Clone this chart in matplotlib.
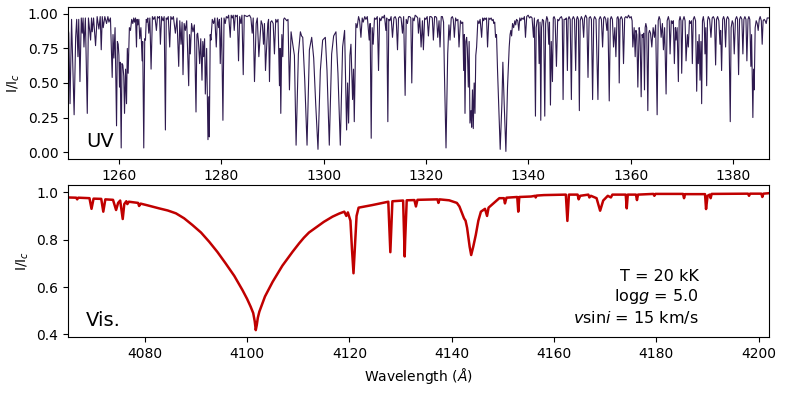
import numpy as np
import matplotlib
matplotlib.use('Agg')
import matplotlib.pyplot as plt

# UV spectrum, points as (wavelength [A], I/Ic)
uv_points = [
    (1250.0, 0.90), (1250.15, 0.86), (1250.4, 0.35), (1250.7, 0.96), (1251.2, 0.27), (1251.5, 0.83),
    (1251.7, 0.96), (1251.95, 0.69), (1252.1, 0.96), (1252.34, 0.51), (1252.6, 0.97), (1252.79, 0.86),
    (1252.95, 0.97), (1253.12, 0.76), (1253.4, 0.97), (1253.77, 0.28), (1254.0, 0.97), (1254.42, 0.81),
    (1254.6, 0.97), (1254.74, 0.87), (1255.0, 0.97), (1255.39, 0.77), (1255.7, 0.98), (1256.04, 0.89),
    (1256.3, 0.98), (1256.5, 0.74), (1256.7, 0.98), (1256.89, 0.90), (1257.2, 0.98), (1257.54, 0.93),
    (1257.8, 0.98), (1258.0, 0.94), (1258.3, 0.97), (1258.64, 0.54), (1258.8, 0.85), (1258.97, 0.68),
    (1259.2, 0.90), (1259.49, 0.19), (1259.65, 0.80), (1259.81, 0.78), (1259.95, 0.70), (1260.07, 0.47),
    (1260.2, 0.65), (1260.4, 0.03), (1260.55, 0.64), (1260.72, 0.63), (1260.9, 0.55), (1261.05, 0.28),
    (1261.25, 0.60), (1261.44, 0.35), (1261.6, 0.75), (1261.76, 0.57), (1262.0, 0.90), (1262.22, 0.88),
    (1262.45, 0.96), (1262.67, 0.93), (1262.85, 0.97), (1263.0, 0.94), (1263.2, 0.97), (1263.39, 0.76),
    (1263.5, 0.96), (1263.65, 0.92), (1263.85, 0.96), (1264.03, 0.82), (1264.25, 0.90), (1264.49, 0.66),
    (1264.6, 0.80), (1264.81, 0.03), (1265.0, 0.82), (1265.14, 0.81), (1265.3, 0.96), (1265.46, 0.94),
    (1265.6, 0.97), (1265.79, 0.86), (1266.0, 0.97), (1266.24, 0.60), (1266.5, 0.98), (1266.76, 0.96),
    (1267.0, 0.98), (1267.28, 0.88), (1267.5, 0.98), (1267.74, 0.97), (1267.9, 0.98), (1268.06, 0.78),
    (1268.3, 0.98), (1268.58, 0.95), (1268.8, 0.98), (1269.04, 0.16), (1269.2, 0.97), (1269.36, 0.96),
    (1269.6, 0.98), (1269.88, 0.76), (1270.1, 0.98), (1270.34, 0.96), (1270.6, 0.98), (1270.99, 0.86),
    (1271.3, 0.97), (1271.64, 0.62), (1271.85, 0.95), (1272.09, 0.78), (1272.3, 0.94), (1272.48, 0.56),
    (1272.7, 0.93), (1272.94, 0.88), (1273.2, 0.95), (1273.59, 0.48), (1273.75, 0.85), (1273.91, 0.71),
    (1274.15, 0.93), (1274.43, 0.87), (1274.7, 0.92), (1275.02, 0.29), (1275.2, 0.85), (1275.34, 0.86),
    (1275.5, 0.80), (1275.73, 0.64), (1275.95, 0.82), (1276.19, 0.52), (1276.35, 0.80), (1276.51, 0.69),
    (1276.7, 0.82), (1276.84, 0.42), (1277.1, 0.75), (1277.36, 0.09), (1277.5, 0.40), (1277.62, 0.11),
    (1277.8, 0.85), (1277.94, 0.81), (1278.2, 0.96), (1278.46, 0.93), (1278.7, 0.97), (1278.98, 0.76),
    (1279.2, 0.97), (1279.44, 0.90), (1279.6, 0.96), (1279.76, 0.64), (1280.0, 0.97), (1280.28, 0.23),
    (1280.5, 0.97), (1280.73, 0.93), (1280.95, 0.98), (1281.19, 0.97), (1281.4, 0.99), (1281.71, 0.83),
    (1281.9, 0.99), (1282.1, 0.97), (1282.3, 0.99), (1282.49, 0.88), (1282.7, 0.99), (1282.88, 0.98),
    (1283.1, 0.99), (1283.33, 0.66), (1283.55, 0.98), (1283.79, 0.93), (1284.0, 0.99), (1284.25, 0.56),
    (1284.45, 0.99),
    (1285.0, 0.98), (1285.48, 0.99), (1285.75, 0.97), (1286.0, 0.86), (1286.2, 0.97), (1286.45, 0.51),
    (1286.78, 0.93), (1287.0, 0.97), (1287.3, 0.69), (1287.75, 0.95), (1288.0, 0.92), (1288.21, 0.78),
    (1288.4, 0.93), (1288.6, 0.59), (1289.05, 0.93), (1289.2, 0.96), (1289.38, 0.51), (1289.6, 0.94),
    (1289.83, 0.95), (1290.1, 0.93), (1290.35, 0.71), (1290.6, 0.96), (1290.81, 0.94), (1291.05, 0.96),
    (1291.33, 0.48), (1291.45, 0.75), (1291.59, 0.28), (1291.8, 0.85), (1291.98, 0.69), (1292.15, 0.96),
    (1292.3, 0.97), (1292.55, 0.96), (1292.76, 0.95), (1293.0, 0.96), (1293.28, 0.45), (1293.6, 0.87),
    (1293.93, 0.78), (1294.25, 0.70), (1294.58, 0.05), (1295.03, 0.71), (1295.42, 0.87), (1295.65, 0.84),
    (1295.88, 0.83), (1296.27, 0.52), (1296.72, 0.05), (1297.18, 0.74), (1297.63, 0.83), (1298.02, 0.68),
    (1298.41, 0.35), (1298.86, 0.02), (1299.32, 0.59), (1299.77, 0.81), (1300.29, 0.83), (1300.62, 0.59),
    (1301.07, 0.05), (1301.53, 0.71), (1301.92, 0.84), (1302.37, 0.87), (1302.76, 0.57), (1303.22, 0.05),
    (1303.67, 0.76), (1304.06, 0.88), (1304.45, 0.16), (1304.65, 0.50), (1304.84, 0.21), (1305.1, 0.70),
    (1305.3, 0.78), (1305.62, 0.38), (1305.8, 0.60), (1305.95, 0.22), (1306.27, 0.93), (1306.5, 0.90),
    (1306.79, 0.98), (1307.0, 0.95), (1307.25, 0.83), (1307.5, 0.97), (1307.7, 0.94), (1308.0, 0.98),
    (1308.22, 0.96), (1308.5, 0.98), (1308.87, 0.81), (1309.05, 0.93), (1309.26, 0.10), (1309.45, 0.90),
    (1309.65, 0.78), (1309.9, 0.97), (1310.17, 0.96), (1310.45, 0.98), (1310.69, 0.59), (1310.9, 0.97),
    (1311.15, 0.95), (1311.4, 0.98), (1311.6, 0.97), (1311.85, 0.99), (1312.12, 0.88), (1312.3, 0.97),
    (1312.51, 0.22), (1312.7, 0.96), (1312.9, 0.95), (1313.15, 0.98), (1313.42, 0.83), (1313.7, 0.97),
    (1313.94, 0.98), (1314.15, 0.96), (1314.4, 0.74), (1314.6, 0.97), (1314.85, 0.98), (1315.1, 0.97),
    (1315.37, 0.86), (1315.6, 0.98), (1315.89, 0.41), (1316.1, 0.96), (1316.34, 0.93), (1316.55, 0.98),
    (1316.8, 0.98), (1317.0, 0.97), (1317.19, 0.50), (1317.4, 0.97), (1317.64, 0.95), (1317.85, 0.99),
    (1318.16, 0.98), (1318.35, 0.97), (1318.49, 0.86), (1318.75, 0.97),
    (1319.01, 0.76), (1319.27, 0.95), (1319.46, 0.74), (1319.7, 0.97), (1319.92, 0.96), (1320.2, 0.98),
    (1320.44, 0.84), (1320.7, 0.98), (1320.96, 0.98), (1321.2, 0.97), (1321.41, 0.81), (1321.65, 0.98),
    (1321.87, 0.98), (1322.05, 0.97), (1322.26, 0.83), (1322.52, 0.95), (1322.71, 0.76), (1322.95, 0.98),
    (1323.17, 0.98), (1323.4, 0.94), (1323.56, 0.59), (1323.88, 0.03), (1324.21, 0.71), (1324.45, 0.92),
    (1324.66, 0.81), (1324.9, 0.97), (1325.12, 0.98), (1325.3, 0.96), (1325.51, 0.83), (1325.75, 0.97),
    (1325.96, 0.95), (1326.2, 0.96), (1326.42, 0.76), (1326.7, 0.95), (1326.94, 0.93), (1327.15, 0.94),
    (1327.33, 0.59), (1327.45, 0.85), (1327.59, 0.28), (1327.75, 0.80), (1327.91, 0.83), (1328.05, 0.75),
    (1328.24, 0.47), (1328.4, 0.80), (1328.56, 0.21), (1328.76, 0.30), (1328.89, 0.18), (1329.05, 0.45),
    (1329.21, 0.17), (1329.38, 0.50), (1329.54, 0.28), (1329.7, 0.70), (1329.86, 0.76), (1330.1, 0.95),
    (1330.32, 0.93), (1330.55, 0.96), (1330.84, 0.83), (1331.05, 0.97), (1331.23, 0.95), (1331.45, 0.97),
    (1331.62, 0.96), (1331.8, 0.97), (1332.0, 0.76), (1332.25, 0.97), (1332.46, 0.96), (1332.7, 0.97),
    (1332.91, 0.95), (1333.1, 0.96), (1333.24, 0.93), (1333.4, 0.94), (1333.56, 0.83), (1333.75, 0.85),
    (1333.95, 0.59), (1334.21, 0.30), (1334.47, 0.02), (1334.8, 0.35), (1334.99, 0.65), (1335.25, 0.35),
    (1335.58, 0.005), (1335.9, 0.47), (1336.23, 0.76), (1336.4, 0.85), (1336.55, 0.88), (1336.7, 0.84),
    (1336.88, 0.93), (1337.1, 0.90), (1337.33, 0.95), (1337.5, 0.92), (1337.66, 0.96), (1337.9, 0.95),
    (1338.11, 0.88), (1338.3, 0.97), (1338.5, 0.95), (1338.7, 0.97), (1338.96, 0.96), (1339.2, 0.98),
    (1339.41, 0.83), (1339.65, 0.98), (1339.93, 0.99), (1340.2, 0.97), (1340.45, 0.98), (1340.7, 0.97),
    (1340.97, 0.83), (1341.15, 0.97), (1341.36, 0.26), (1341.5, 0.90), (1341.69, 0.95), (1341.9, 0.96),
    (1342.08, 0.64), (1342.25, 0.94), (1342.4, 0.23), (1342.55, 0.90), (1342.73, 0.96), (1342.95, 0.95),
    (1343.18, 0.26), (1343.35, 0.93), (1343.57, 0.98), (1343.75, 0.96), (1343.96, 0.78), (1344.1, 0.94),
    (1344.29, 0.34), (1344.45, 0.80), (1344.68, 0.51), (1344.85, 0.97), (1345.0, 0.98), (1345.2, 0.96),
    (1345.46, 0.62), (1345.7, 0.96), (1345.91, 0.95), (1346.15, 0.97), (1346.43, 0.98), (1346.6, 0.96),
    (1346.76, 0.38), (1346.95, 0.96), (1347.21, 0.96), (1347.4, 0.97), (1347.6, 0.59), (1347.75, 0.96),
    (1347.92, 0.98), (1348.15, 0.96), (1348.38, 0.38), (1348.55, 0.96), (1348.77, 0.98), (1349.0, 0.96),
    (1349.22, 0.59), (1349.4, 0.96), (1349.55, 0.98), (1349.75, 0.96), (1349.94, 0.30), (1350.1, 0.95),
    (1350.33, 0.98), (1350.55, 0.96), (1350.78, 0.83), (1350.95, 0.97), (1351.17, 0.99), (1351.4, 0.97),
    (1351.63, 0.54), (1351.85, 0.97), (1352.08, 0.98), (1352.3, 0.96),
    (1352.53, 0.38), (1352.75, 0.96), (1352.92, 0.98), (1353.2, 0.96), (1353.57, 0.38), (1353.8, 0.96),
    (1354.02, 0.98), (1354.25, 0.96), (1354.48, 0.76), (1354.7, 0.97), (1354.87, 0.98), (1355.1, 0.96),
    (1355.32, 0.88), (1355.52, 0.97), (1355.78, 0.37), (1356.0, 0.96), (1356.17, 0.98), (1356.4, 0.96),
    (1356.62, 0.76), (1356.88, 0.90), (1357.08, 0.69), (1357.3, 0.97), (1357.47, 0.98), (1357.6, 0.96),
    (1357.73, 0.50), (1357.9, 0.96), (1358.12, 0.98), (1358.35, 0.96), (1358.57, 0.64), (1358.8, 0.97),
    (1359.03, 0.98), (1359.3, 0.97), (1359.55, 0.99), (1359.8, 0.97), (1360.07, 0.98), (1360.25, 0.95),
    (1360.39, 0.76), (1360.65, 0.90), (1360.85, 0.69), (1361.0, 0.88), (1361.17, 0.85), (1361.37, 0.47),
    (1361.63, 0.90), (1361.8, 0.85), (1362.02, 0.40), (1362.2, 0.85), (1362.34, 0.83), (1362.5, 0.86),
    (1362.67, 0.45), (1362.8, 0.90), (1362.93, 0.93), (1363.1, 0.90), (1363.32, 0.30), (1363.5, 0.86),
    (1363.64, 0.88), (1363.85, 0.86), (1364.1, 0.76), (1364.36, 0.90), (1364.62, 0.83), (1364.85, 0.92),
    (1365.14, 0.27), (1365.35, 0.95), (1365.53, 0.98), (1365.7, 0.96), (1365.92, 0.83), (1366.17, 0.93),
    (1366.37, 0.74), (1366.6, 0.90), (1366.89, 0.42), (1367.1, 0.95), (1367.34, 0.98), (1367.5, 0.95),
    (1367.67, 0.71), (1367.9, 0.95), (1368.12, 0.93), (1368.3, 0.95), (1368.51, 0.64), (1368.7, 0.90),
    (1368.84, 0.81), (1369.05, 0.90), (1369.29, 0.51), (1369.45, 0.95), (1369.62, 0.98), (1369.8, 0.95),
    (1369.94, 0.57), (1370.15, 0.95), (1370.4, 0.98), (1370.6, 0.95), (1370.79, 0.66), (1371.05, 0.85),
    (1371.24, 0.76), (1371.45, 0.95), (1371.63, 0.93), (1371.85, 0.95), (1372.02, 0.64), (1372.2, 0.96),
    (1372.41, 0.98), (1372.65, 0.95), (1372.87, 0.44), (1373.05, 0.80), (1373.19, 0.64), (1373.35, 0.85),
    (1373.52, 0.52), (1373.7, 0.80), (1373.84, 0.35), (1374.0, 0.95), (1374.17, 0.98), (1374.35, 0.93),
    (1374.49, 0.71), (1374.65, 0.90), (1374.82, 0.48), (1374.98, 0.95), (1375.14, 0.98), (1375.4, 0.96),
    (1375.66, 0.83), (1375.9, 0.97), (1376.12, 0.98), (1376.35, 0.96), (1376.57, 0.63), (1376.75, 0.96),
    (1376.96, 0.98), (1377.2, 0.95), (1377.42, 0.78), (1377.55, 0.88), (1377.74, 0.59), (1377.95, 0.96),
    (1378.13, 0.98), (1378.3, 0.96), (1378.52, 0.76), (1378.7, 0.96), (1378.91, 0.98), (1379.15, 0.96),
    (1379.43, 0.22), (1379.6, 0.90), (1379.82, 0.95), (1380.0, 0.93), (1380.21, 0.71), (1380.45, 0.96),
    (1380.67, 0.98), (1380.85, 0.96), (1381.06, 0.56), (1381.25, 0.96), (1381.45, 0.98), (1381.7, 0.96),
    (1381.9, 0.71), (1382.1, 0.96), (1382.29, 0.98), (1382.5, 0.96), (1382.68, 0.66), (1382.9, 0.96),
    (1383.07, 0.98), (1383.25, 0.96), (1383.46, 0.62), (1383.6, 0.85), (1383.85, 0.25), (1383.98, 0.60),
    (1384.11, 0.45), (1384.3, 0.90), (1384.5, 0.95), (1384.7, 0.93), (1384.89, 0.88), (1385.1, 0.96),
    (1385.28, 0.98), (1385.5, 0.95), (1385.67, 0.78), (1385.85, 0.95), (1386.06, 0.96), (1386.25, 0.95),
    (1386.45, 0.93), (1386.65, 0.97), (1387.0, 0.97),
]

# visible spectrum around H-delta
vis_points = [
    (4065.0, 0.978), (4066.6, 0.977), (4066.8, 0.970), (4067.0, 0.977), (4069.2, 0.975), (4069.6, 0.930),
    (4070.0, 0.973), (4071.5, 0.972), (4071.9, 0.918), (4072.3, 0.970), (4073.8, 0.968), (4074.4, 0.925),
    (4074.8, 0.955), (4075.2, 0.965), (4075.7, 0.887), (4076.0, 0.950), (4076.4, 0.962), (4076.6, 0.950),
    (4076.9, 0.960), (4078.7, 0.955), (4078.9, 0.942), (4079.2, 0.952), (4080.5, 0.945), (4082.8, 0.932),
    (4084.5, 0.923), (4086.1, 0.911), (4087.7, 0.890), (4089.3, 0.862), (4091.0, 0.830), (4092.6, 0.791),
    (4094.2, 0.748), (4095.8, 0.700), (4097.5, 0.647), (4099.1, 0.587), (4100.0, 0.550), (4100.7, 0.517),
    (4101.2, 0.490), (4101.5, 0.455), (4101.7, 0.418), (4101.9, 0.440), (4102.1, 0.470), (4102.4, 0.496),
    (4103.5, 0.560), (4105.0, 0.622), (4106.9, 0.690), (4108.9, 0.749), (4110.2, 0.785), (4111.1, 0.808),
    (4112.1, 0.830), (4113.4, 0.850), (4115.0, 0.875), (4116.7, 0.897), (4118.0, 0.910), (4119.0, 0.918),
    (4119.4, 0.900), (4119.7, 0.915), (4120.2, 0.880), (4120.5, 0.760), (4120.8, 0.658), (4121.1, 0.780),
    (4121.4, 0.900), (4121.8, 0.935), (4124.5, 0.946), (4127.6, 0.960), (4127.9, 0.800), (4128.0, 0.747),
    (4128.1, 0.800), (4128.4, 0.962), (4130.5, 0.965), (4130.7, 0.800), (4130.8, 0.729), (4130.9, 0.800),
    (4131.2, 0.966), (4132.7, 0.967), (4133.0, 0.940), (4133.3, 0.968), (4137.2, 0.970), (4137.4, 0.955),
    (4137.6, 0.970), (4139.5, 0.966), (4141.0, 0.955), (4141.5, 0.940), (4142.4, 0.890), (4142.7, 0.880),
    (4143.0, 0.850), (4143.5, 0.770), (4143.8, 0.735), (4144.2, 0.770), (4144.7, 0.820), (4145.2, 0.880),
    (4145.7, 0.918), (4146.5, 0.930), (4146.9, 0.900), (4147.2, 0.935), (4148.5, 0.960), (4149.3, 0.975),
    (4150.2, 0.975), (4150.4, 0.953), (4150.7, 0.977), (4152.8, 0.980), (4153.0, 0.918), (4153.2, 0.980),
    (4155.5, 0.982), (4156.3, 0.985), (4156.4, 0.978), (4156.6, 0.986), (4158.0, 0.988), (4162.3, 0.990),
    (4162.6, 0.879), (4162.9, 0.990), (4164.6, 0.990), (4164.8, 0.970), (4165.1, 0.985), (4166.7, 0.990),
    (4166.9, 0.978), (4167.2, 0.985), (4168.3, 0.975), (4169.0, 0.922), (4169.6, 0.965), (4170.5, 0.985),
    (4171.1, 0.978), (4171.4, 0.990), (4174.0, 0.990), (4174.2, 0.932), (4174.4, 0.990), (4176.0, 0.990),
    (4176.2, 0.967), (4176.4, 0.990), (4179.4, 0.993), (4179.6, 0.985), (4179.8, 0.993), (4185.2, 0.993),
    (4185.4, 0.975), (4185.6, 0.992), (4189.5, 0.992), (4189.7, 0.929), (4190.0, 0.985), (4190.4, 0.990),
    (4190.6, 0.975), (4190.8, 0.993), (4197.9, 0.994), (4198.1, 0.985), (4198.3, 0.994), (4200.5, 0.994),
    (4200.7, 0.980), (4200.9, 0.994), (4202.0, 0.996),
]

uv_wave, uv_flux = np.array(uv_points).T
vis_wave, vis_flux = np.array(vis_points).T

params_text = 'T = 20 kK\nlog$g$ = 5.0\n$v$sin$i$ = 15 km/s'

plt.rcParams['font.size'] = 10

fig = plt.figure(figsize=(7.85, 3.93), dpi=100)
ax_uv = fig.add_axes([0.0866, 0.5954, 0.893, 0.387])
ax_vis = fig.add_axes([0.0866, 0.1425, 0.893, 0.387])

# UV panel
ax_uv.plot(uv_wave, uv_flux, color='#2e1a4f', lw=0.8)
ax_uv.set_xlim(1250, 1387)
ax_uv.set_ylim(-0.05, 1.05)
ax_uv.set_yticks([0.0, 0.25, 0.5, 0.75, 1.0])
ax_uv.set_ylabel('I/I$_c$')
ax_uv.text(0.026, 0.05, 'UV', transform=ax_uv.transAxes, fontsize=14, ha='left', va='bottom')

# visible panel
ax_vis.plot(vis_wave, vis_flux, color='#c00000', lw=1.8)
ax_vis.set_xlim(4065, 4202)
ax_vis.set_ylim(0.389, 1.031)
ax_vis.set_yticks([0.4, 0.6, 0.8, 1.0])
ax_vis.set_ylabel('I/I$_c$')
ax_vis.set_xlabel(r'Wavelength ($\AA$)')
ax_vis.text(0.026, 0.045, 'Vis.', transform=ax_vis.transAxes, fontsize=14, ha='left', va='bottom')
ax_vis.text(0.90, 0.075, params_text, transform=ax_vis.transAxes, fontsize=11.5,
            ha='right', va='bottom', multialignment='right')

fig.savefig('out.png', dpi=100)
